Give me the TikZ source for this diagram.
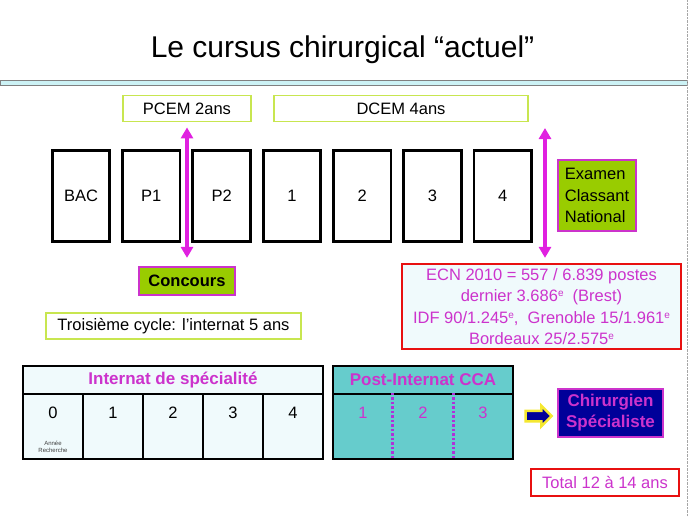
\documentclass[tikz,border=0pt]{standalone}
\usepackage{fontspec}
\setmainfont{Liberation Sans}
\usetikzlibrary{shapes, arrows.meta, positioning, calc}

\definecolor{limeline}{HTML}{C8E650}
\definecolor{limefill}{HTML}{99CC00}
\definecolor{pinkline}{HTML}{CC33CC}
\definecolor{pinktext}{HTML}{CC33CC}
\definecolor{dotpink}{HTML}{B030D8}
\definecolor{arrowpink}{HTML}{E020E0}
\definecolor{redline}{HTML}{E81010}
\definecolor{navyfill}{HTML}{000099}
\definecolor{turq}{HTML}{66CCCC}
\definecolor{icefill}{HTML}{F0FAFC}
\definecolor{bandfill}{HTML}{CCF2F5}
\definecolor{glow}{HTML}{F5E830}

\newcommand{\rang}{\raisebox{0.55ex}{\fontsize{10}{10}\selectfont e}}

\begin{document}
\begin{tikzpicture}[x=1pt, y=-1pt,
        font=\fontsize{16.5}{21.5}\selectfont,
        node distance=10pt,
        year/.style={rectangle, draw, line width=2.8pt, minimum width=57.5pt, minimum height=91.5pt, inner sep=0pt},
        period/.style={rectangle, draw=limeline, line width=1.8pt, minimum height=26pt, inner sep=0pt},
        info/.style={rectangle, draw=redline, line width=2.2pt, fill=icefill, text=pinktext, align=center, inner sep=0pt},
        exam/.style={rectangle, draw=pinkline, line width=2.2pt, fill=limefill, inner sep=0pt},
        cell/.style={rectangle, draw, line width=2.2pt, minimum width=60pt, minimum height=65pt, inner sep=0pt},
        head/.style={rectangle, draw, line width=2.2pt, minimum height=28pt, inner sep=0pt, text=pinktext, font=\fontsize{17}{20}\selectfont\bfseries},
        line/.style={draw, arrowpink, line width=3.2pt, {Triangle[length=11pt,width=12pt]}-{Triangle[length=11pt,width=12pt]}},
        dots/.style={draw, dotpink, line width=2.5pt, dash pattern=on 2.5pt off 2pt}
    ]
    \useasboundingbox (0,0) rectangle (689,517);

    % Title
    \node [anchor=base] (title) at (342.5,57) {\fontsize{30}{34}\selectfont Le cursus chirurgical ``actuel''};
    \draw [gray, fill=bandfill] (0,80) rectangle (687,85);
    \draw [gray!70, densely dotted] (687,0) -- (687,517);

    % Years
    \node [year] (bac) at (81,196) {BAC};
    \node [year, right=of bac] (p1) {P1};
    \node [year, right=of p1] (p2) {P2};
    \node [year, right=of p2] (d1) {1};
    \node [year, right=of d1] (d2) {2};
    \node [year, right=of d2] (d3) {3};
    \node [year, right=of d3] (d4) {4};

    % Periods
    \node [period, minimum width=128pt] (pcem) at (187,108.5) {PCEM 2ans};
    \node [period, minimum width=254pt] (dcem) at (401,108.5) {DCEM 4ans};
    \node [exam, align=left, minimum width=78pt, minimum height=71pt] (ecnexam) at (597,195.5) {Examen\\Classant\\National};
    \node [exam, minimum width=96pt, minimum height=28pt, font=\fontsize{16.5}{20}\selectfont\bfseries] (concours) at (187,281) {Concours};
    \node [info, minimum width=279pt, minimum height=85pt] (ecn) at (541.5,306.5) {ECN 2010 = 557 / 6.839 postes\\
        dernier 3.686\rang\ \ (Brest)\\
        IDF 90/1.245\rang,\ \ Grenoble 15/1.961\rang\\
        Bordeaux 25/2.575\rang};
    \node [period, minimum width=255pt] (cycle) at (173.5,326) {Troisième cycle: l'internat 5 ans};

    % Arrows
    \coordinate (ecntop) at (545,128);
    \path [line, shorten <=5pt, shorten >=8pt] (pcem.south) -- (concours.north);
    \path [line, shorten >=5pt] (ecntop) -- (ecntop |- ecn.north);

    % Internat de specialite
    \node [head, fill=icefill, minimum width=300pt] (ihead) at (173,380) {Internat de spécialité};
    \foreach \n in {0,...,4} {
        \node [cell, fill=icefill] (i\n) at (53+60*\n,426.5) {};
        \node at (53+60*\n,413) {\n};
    }
    \node [font=\fontsize{6}{7.5}\selectfont, align=center, text=darkgray] (recherche) at (53,447) {Année\\Recherche};

    % Post-internat
    \node [head, fill=turq, minimum width=180pt] (phead) at (423,380) {Post-Internat CCA};
    \node [cell, fill=turq, minimum width=180pt] (pbody) at (423,426.5) {};
    \path [dots] ($(pbody.north west)!1/3!(pbody.north east)$) -- ($(pbody.south west)!1/3!(pbody.south east)$);
    \path [dots] ($(pbody.north west)!2/3!(pbody.north east)$) -- ($(pbody.south west)!2/3!(pbody.south east)$);
    \foreach \n in {1,2,3}
        \node [text=pinktext] at (303+60*\n,413) {\n};

    \node [single arrow, draw=glow, fill=navyfill, line width=2.5pt, minimum height=26pt, minimum width=18pt, single arrow head extend=5pt, inner sep=4pt] (towards) at (536,416) {};
    \node [rectangle, draw=pinkline, line width=2.2pt, fill=navyfill, text=pinktext, align=center, minimum width=105pt, minimum height=48pt, inner sep=0pt, font=\fontsize{17}{21}\selectfont\bfseries] (chir) at (610.5,413) {Chirurgien\\Spécialiste};
    \node [info, fill=white, minimum width=148pt, minimum height=27pt] (total) at (605,482.5) {Total 12 à 14 ans};
\end{tikzpicture}
\end{document}
